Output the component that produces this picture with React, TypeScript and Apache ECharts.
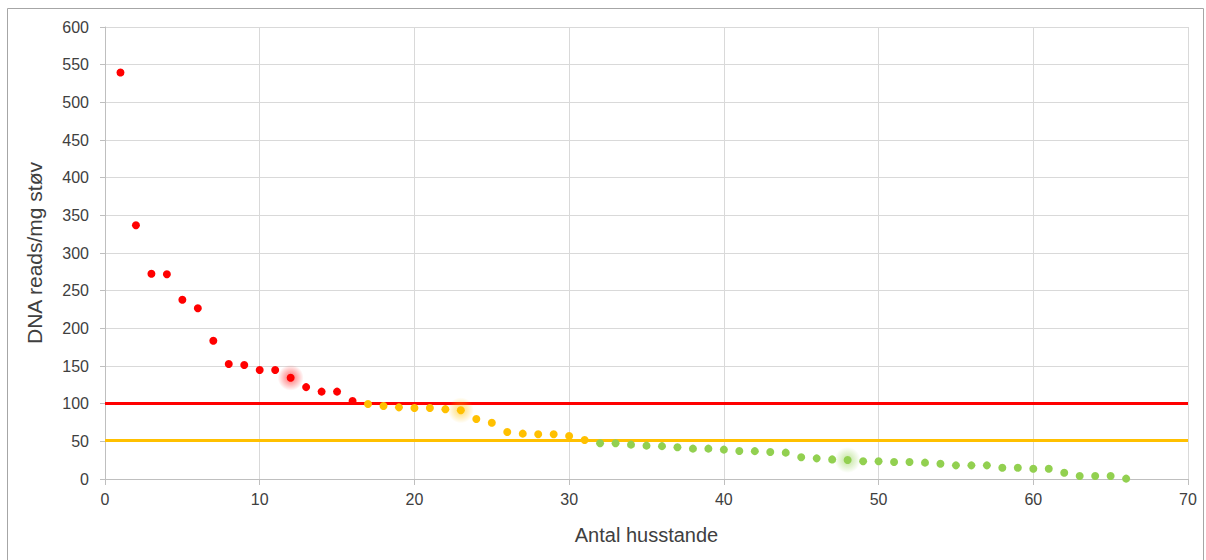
import React, { useEffect, useRef } from "react";
import * as echarts from "echarts";

const redValues = [539.5, 336.8, 272.5, 271.7, 238, 226.6, 183.6, 152.7, 151.3, 144.7, 144.7, 134.5, 122, 116, 116, 103.5];
const yellowValues = [99.5, 96.9, 95.1, 94.2, 94.2, 92.7, 91.2, 79.6, 74.7, 62.4, 60.2, 59.3, 59.3, 57.1, 51.8];
const greenValues = [47.4, 47.4, 45.6, 44.3, 43.6, 42.2, 40.3, 40.3, 39, 37.2, 37, 35.8, 35, 28.8, 27.4, 26, 25.2, 23.5, 23.5, 22.6, 22.6, 21.7, 20.3, 18.1, 18.1, 18.1, 15, 15, 13.7, 13.7, 8.4, 4, 4, 4, 0.5];
const redStart = 1;
const yellowStart = 17;
const greenStart = 32;
const highlighted = [12, 23, 48];
const thresholdRed = 100;
const thresholdYellow = 52;

const FONT = "'Liberation Sans', 'Noto Sans', sans-serif";

function pts(values: number[], start: number) {
  return values.map((v, i) => [start + i, v]);
}

function halo(values: number[], start: number, rgb: string) {
  const data = pts(values, start).filter((p) => highlighted.includes(p[0]));
  return {
    type: "scatter",
    symbolSize: 26,
    clip: false,
    silent: true,
    z: 2,
    itemStyle: {
      opacity: 1,
      color: new echarts.graphic.RadialGradient(0.5, 0.5, 0.5, [
        { offset: 0, color: `rgba(${rgb},0.55)` },
        { offset: 0.4, color: `rgba(${rgb},0.35)` },
        { offset: 1, color: `rgba(${rgb},0)` },
      ]),
    },
    data,
  };
}

export default function App() {
  const ref = useRef<HTMLDivElement>(null);
  useEffect(() => {
    if (!ref.current) return;
    const chart = echarts.init(ref.current, null, { renderer: "svg" });
    chart.setOption({
      animation: false,
      backgroundColor: "#ffffff",
      grid: { left: 105, right: 18, top: 27, bottom: 81, containLabel: false },
      graphic: [
        {
          type: "rect",
          shape: { x: 7.5, y: 8.5, width: 1196, height: 580 },
          style: { fill: "none", stroke: "#a6a6a6", lineWidth: 1 },
          z: -1,
        },
      ],
      xAxis: {
        type: "value",
        min: 0,
        max: 70,
        interval: 10,
        name: "Antal husstande",
        nameLocation: "middle",
        nameGap: 46,
        nameTextStyle: { fontFamily: FONT, fontSize: 20, color: "#404040" },
        axisLine: { show: true, lineStyle: { color: "#bfbfbf", width: 1 } },
        axisTick: { show: true, length: 6, lineStyle: { color: "#bfbfbf" } },
        axisLabel: { fontFamily: FONT, fontSize: 16, color: "#404040", margin: 12 },
        splitLine: { show: true, lineStyle: { color: "#d9d9d9", width: 1 } },
      },
      yAxis: {
        type: "value",
        min: 0,
        max: 600,
        interval: 50,
        name: "DNA reads/mg støv",
        nameLocation: "middle",
        nameGap: 60,
        nameRotate: 90,
        nameTextStyle: { fontFamily: FONT, fontSize: 21, color: "#404040" },
        axisLine: { show: true, lineStyle: { color: "#bfbfbf", width: 1 } },
        axisTick: { show: true, length: 5, lineStyle: { color: "#bfbfbf" } },
        axisLabel: { fontFamily: FONT, fontSize: 16, color: "#404040", margin: 16 },
        splitLine: { show: true, lineStyle: { color: "#d9d9d9", width: 1 } },
      },
      series: [
        halo(redValues, redStart, "255,0,0"),
        halo(yellowValues, yellowStart, "255,192,0"),
        halo(greenValues, greenStart, "146,208,80"),
        {
          type: "scatter",
          symbolSize: 8,
          clip: false,
          itemStyle: { color: "#ff0000", opacity: 1 },
          data: pts(redValues, redStart),
          markLine: {
            silent: true,
            symbol: "none",
            label: { show: false },
            lineStyle: { color: "#ff0000", width: 3, type: "solid", opacity: 1 },
            data: [{ yAxis: thresholdRed }],
            z: 1,
          },
          z: 3,
        },
        {
          type: "scatter",
          symbolSize: 8,
          clip: false,
          itemStyle: { color: "#ffc000", opacity: 1 },
          data: pts(yellowValues, yellowStart),
          markLine: {
            silent: true,
            symbol: "none",
            label: { show: false },
            lineStyle: { color: "#ffc000", width: 3, type: "solid", opacity: 1 },
            data: [{ yAxis: thresholdYellow }],
            z: 1,
          },
          z: 3,
        },
        {
          type: "scatter",
          symbolSize: 8,
          clip: false,
          itemStyle: { color: "#92d050", opacity: 1 },
          data: pts(greenValues, greenStart),
          z: 3,
        },
      ],
    });
    return () => chart.dispose();
  }, []);
  return (
    <div
      ref={ref}
      style={{ position: "absolute", left: 0, top: 0, width: 1206, height: 560 }}
    />
  );
}
